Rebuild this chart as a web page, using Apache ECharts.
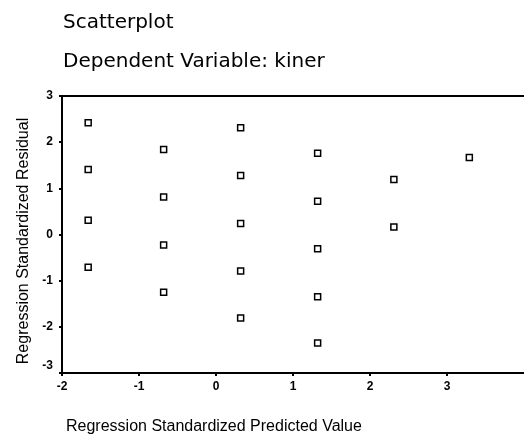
<!DOCTYPE html>
<html>
<head>
<meta charset="utf-8">
<script src="https://cdn.jsdelivr.net/npm/echarts@6/dist/echarts.min.js"></script>
<style>html,body{margin:0;padding:0;background:#fff}#c{width:524px;height:436px}</style>
</head>
<body>
<div id="c"></div>
<script>
var title = 'Scatterplot';
var subtitle = 'Dependent Variable: kiner';
var xName = 'Regression Standardized Predicted Value';
var yName = 'Regression Standardized Residual';
var xTicks = [-2, -1, 0, 1, 2, 3, 4];
var yTicks = [-3, -2, -1, 0, 1, 2, 3];
var predicted = [-1.66, -1.66, -1.66, -1.66, -0.68, -0.68, -0.68, -0.68, 0.32, 0.32, 0.32, 0.32, 0.32, 1.32, 1.32, 1.32, 1.32, 1.32, 2.31, 2.31, 3.29];
var residual  = [2.42, 1.41, 0.31, -0.71, 1.84, 0.81, -0.23, -1.25, 2.31, 1.28, 0.24, -0.79, -1.81, 1.76, 0.72, -0.31, -1.35, -2.35, 1.19, 0.16, 1.67];

var pts = predicted.map(function (x, i) { return [x, residual[i]]; });
var chart = echarts.init(document.getElementById('c'), null, {renderer: 'canvas'});
var tickFont = {fontFamily: 'Liberation Sans, Arial, sans-serif', fontSize: 12, fontWeight: 'bold', color: '#000'};
var xMin = xTicks[0], xMax = xTicks[xTicks.length - 1];
chart.setOption({
  animation: false,
  backgroundColor: '#fff',
  grid: {left: 62, top: 96, right: -2.5, bottom: 63, show: false},
  xAxis: [{
    type: 'value', min: xMin, max: xMax, interval: 1, position: 'bottom',
    splitLine: {show: false},
    axisLine: {onZero: false, lineStyle: {color: '#000', width: 2}},
    axisTick: {length: 3, lineStyle: {color: '#000', width: 2}},
    axisLabel: Object.assign({margin: 8, showMaxLabel: false}, tickFont)
  }, {
    type: 'value', min: xMin, max: xMax, interval: 1, position: 'top',
    splitLine: {show: false},
    axisLine: {onZero: false, lineStyle: {color: '#000', width: 2}},
    axisTick: {show: false}, axisLabel: {show: false}
  }],
  yAxis: {
    type: 'value', min: yTicks[0], max: yTicks[yTicks.length - 1], interval: 1,
    splitLine: {show: false},
    axisLine: {onZero: false, lineStyle: {color: '#000', width: 2}},
    axisTick: {length: 3, lineStyle: {color: '#000', width: 2}},
    axisLabel: Object.assign({margin: 9,
      formatter: function (v) { return v === yTicks[0] ? '{s|' + v + '}' : String(v); },
      rich: {s: Object.assign({padding: [0, 0, 14, 0]}, tickFont)}
    }, tickFont)
  },
  series: [{
    type: 'scatter', data: pts, symbol: 'rect', symbolSize: 6, xAxisIndex: 0,
    itemStyle: {color: '#fff', borderColor: '#000', borderWidth: 1.5, opacity: 1}
  }],
  graphic: [
    {type: 'text', left: 63, top: 13, style: {text: title, fontFamily: 'DejaVu Sans, sans-serif', fontSize: 20, fill: '#000'}},
    {type: 'text', left: 63, top: 52, style: {text: subtitle, fontFamily: 'DejaVu Sans, sans-serif', fontSize: 20, fill: '#000'}},
    {type: 'text', left: 66, top: 419, style: {text: xName, fontFamily: 'Liberation Sans, Arial, sans-serif', fontSize: 16, fill: '#000'}},
    {type: 'text', x: 24, y: 241, rotation: Math.PI / 2, style: {text: yName, fontFamily: 'Liberation Sans, Arial, sans-serif', fontSize: 16, fill: '#000', align: 'center', verticalAlign: 'middle'}}
  ]
});
</script>
</body>
</html>
